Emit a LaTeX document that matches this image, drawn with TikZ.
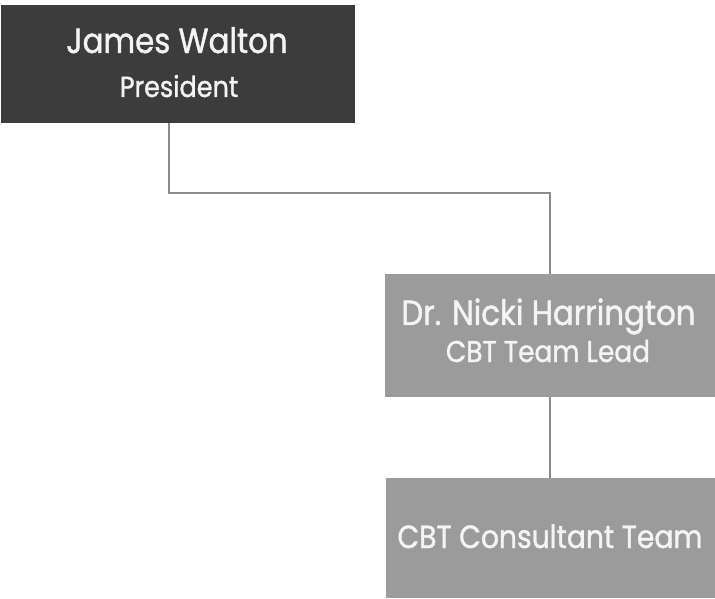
\documentclass[tikz,border=0pt]{standalone}
\usepackage{fontspec}
\setmainfont{Poppins}
\newfontfamily\orgfont{Poppins}[FakeStretch=0.88, FakeBold=1.2]
\definecolor{darkbox}{HTML}{3C3C3C}
\definecolor{lightbox}{HTML}{9B9B9B}
\definecolor{connc}{HTML}{8C8C8C}
\definecolor{boxtext}{HTML}{F4F4F4}
\begin{document}
\begin{tikzpicture}[x=1pt,y=1pt,
  orgbox/.style={rectangle, inner sep=0pt},
  lbl/.style={anchor=base, inner sep=0pt, text=boxtext, font=\orgfont},
  conn/.style={draw=connc, line width=1.5pt}]
\useasboundingbox (0,0) rectangle (715,598);
\node[orgbox, fill=darkbox, minimum width=354pt, minimum height=118pt] (b1) at (178,534) {};
\node[orgbox, fill=lightbox, minimum width=330pt, minimum height=123pt] (b2) at (550,262.5) {};
\node[orgbox, fill=lightbox, minimum width=329pt, minimum height=120pt] (b3) at (550.5,60) {};
\node[lbl] (t1a) at (177,545) {\fontsize{35}{35}\selectfont James Walton};
\node[lbl] (t1b) at (179,501) {\fontsize{29}{29}\selectfont President};
\node[lbl] (t2a) at (548.5,273) {\fontsize{35}{35}\selectfont Dr. Nicki Harrington};
\node[lbl] (t2b) at (548,236) {\fontsize{30}{30}\selectfont CBT Team Lead};
\node[lbl] (t3) at (550,50) {\fontsize{32}{32}\selectfont CBT Consultant Team};
\draw[conn] ([xshift=-9pt]b1.south) -- ++(0,-70) -| (b2.north);
\draw[conn] (b2.south) -- (b2.south |- b3.north);
\end{tikzpicture}
\end{document}
